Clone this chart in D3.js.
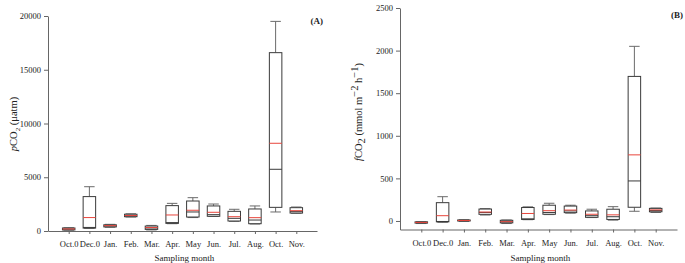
<!DOCTYPE html>
<html>
<head>
<meta charset="utf-8">
<script src="https://cdn.jsdelivr.net/npm/d3@7"></script>
<style>
  body { margin: 0; background: #fff; }
  svg { display: block; font-family: "Liberation Serif", "Times New Roman", serif; }
  .axis path, .axis line { stroke: #666; stroke-width: 1; }
  .axis text { fill: #222; font-size: 8.5px; font-family: "Liberation Serif", serif; }
  .box { fill: #fff; stroke: #3a3a3a; stroke-width: 1; }
  .whisker { stroke: #6a6a6a; stroke-width: 1; }
  .median { stroke: #3a3a3a; stroke-width: 1; }
  .mean { stroke: #e8453c; stroke-width: 1; }
  .title { fill: #222; font-size: 9px; }
  .ytitle { fill: #222; font-size: 10.5px; }
</style>
</head>
<body>
<div id="chart"></div>
<script>
var w = 685;
var h = 263;

var months = ["Oct.0", "Dec.0", "Jan.", "Feb.", "Mar.", "Apr.", "May", "Jun.", "Jul.", "Aug.", "Oct.", "Nov."];

// panel A : pCO2 (uatm)
var pco2Low    = [80,   240, 350, 1300, 100,  680, 1250, 1350,  900,  650,  1770, 1650];
var pco2Q1     = [100,  270, 380, 1330, 150,  710, 1300, 1370,  930,  680,  2200, 1670];
var pco2Median = [180,  330, 470, 1420, 280,  780, 1770, 1520, 1180, 1020,  5740, 1800];
var pco2Mean   = [190, 1250, 500, 1440, 320, 1490, 1930, 1740, 1330, 1240,  8160, 1890];
var pco2Q3     = [280, 3200, 580, 1560, 460, 2360, 2790, 2330, 1830, 2050, 16590, 2170];
var pco2High   = [300, 4120, 620, 1600, 520, 2570, 3100, 2510, 2020, 2330, 19500, 2230];
var pco2Ticks  = [0, 5000, 10000, 15000, 20000];

// panel B : fCO2 (mmol m-2 h-1)
var fco2Low    = [-30, -15, -5,  70, -30,  15,  75,  92,  40,  10,  114, 100];
var fco2Q1     = [-25, -10,  0,  78, -22,  18,  79,  98,  43,  18,  161, 108];
var fco2Median = [-18,  -6,  5, 100, -10,  25, 100, 118,  62,  50,  470, 122];
var fco2Mean   = [-17,  62,  6, 105,  -8,  88, 121, 128,  79,  72,  776, 130];
var fco2Q3     = [-10, 215, 12, 140,   8, 158, 185, 175, 118, 138, 1697, 148];
var fco2High   = [-8,  285, 15, 145,  12, 166, 208, 185, 138, 168, 2050, 152];
var fco2Ticks  = [0, 500, 1000, 1500, 2000, 2500];

function makeRows(lo, q1, med, mean, q3, hi) {
	return months.map(function(m, i) {
		return { month: m, lo: lo[i], q1: q1[i], med: med[i], mean: mean[i], q3: q3[i], hi: hi[i] };
	});
}

function drawPanel(svg, p) {
	var xScale = d3.scalePoint()
					.domain(months)
					.range([p.x0, p.x1])
					.padding(1);

	var yScale = d3.scaleLinear()
					.domain(p.domain)
					.range([p.y0, p.y1]);

	var bw = 12.5;   // box width
	var cw = 10.5;   // whisker cap width

	var g = svg.append("g");

	var boxes = g.selectAll(".bx")
				.data(p.rows)
				.enter()
				.append("g")
				.attr("class", "bx");

	//whiskers
	boxes.append("line").attr("class", "whisker")
		.attr("x1", function(d) { return xScale(d.month); })
		.attr("x2", function(d) { return xScale(d.month); })
		.attr("y1", function(d) { return yScale(d.hi); })
		.attr("y2", function(d) { return yScale(d.q3); });
	boxes.append("line").attr("class", "whisker")
		.attr("x1", function(d) { return xScale(d.month); })
		.attr("x2", function(d) { return xScale(d.month); })
		.attr("y1", function(d) { return yScale(d.q1); })
		.attr("y2", function(d) { return yScale(d.lo); });
	boxes.append("line").attr("class", "whisker")
		.attr("x1", function(d) { return xScale(d.month) - cw / 2; })
		.attr("x2", function(d) { return xScale(d.month) + cw / 2; })
		.attr("y1", function(d) { return yScale(d.hi); })
		.attr("y2", function(d) { return yScale(d.hi); });
	boxes.append("line").attr("class", "whisker")
		.attr("x1", function(d) { return xScale(d.month) - cw / 2; })
		.attr("x2", function(d) { return xScale(d.month) + cw / 2; })
		.attr("y1", function(d) { return yScale(d.lo); })
		.attr("y2", function(d) { return yScale(d.lo); });

	//box
	boxes.append("rect").attr("class", "box")
		.attr("x", function(d) { return xScale(d.month) - bw / 2; })
		.attr("width", bw)
		.attr("y", function(d) { return yScale(d.q3); })
		.attr("height", function(d) { return yScale(d.q1) - yScale(d.q3); });

	//median and mean
	boxes.append("line").attr("class", "median")
		.attr("x1", function(d) { return xScale(d.month) - bw / 2; })
		.attr("x2", function(d) { return xScale(d.month) + bw / 2; })
		.attr("y1", function(d) { return yScale(d.med); })
		.attr("y2", function(d) { return yScale(d.med); });
	boxes.append("line").attr("class", "mean")
		.attr("x1", function(d) { return xScale(d.month) - bw / 2; })
		.attr("x2", function(d) { return xScale(d.month) + bw / 2; })
		.attr("y1", function(d) { return yScale(d.mean); })
		.attr("y2", function(d) { return yScale(d.mean); });

	var xAxis = d3.axisBottom(xScale)
					.tickSize(3)
					.tickSizeOuter(0)
					.tickPadding(7);

	svg.append("g")
		.attr("class", "axis")
		.attr("transform", "translate(0, " + p.y0 + ")")
		.call(xAxis);

	var yAxis = d3.axisLeft(yScale)
					.tickValues(p.ticks)
					.tickSize(4)
					.tickSizeOuter(0)
					.tickPadding(3)
					.tickFormat(d3.format("d"));

	svg.append("g")
		.attr("class", "axis")
		.attr("transform", "translate(" + p.x0 + ", 0)")
		.call(yAxis);

	//the axis domain runs from range to range
	svg.selectAll(".axis .domain").attr("fill", "none");

	svg.append("text")
		.attr("class", "title")
		.attr("x", (p.x0 + p.x1) / 2 + 2)
		.attr("y", 260.5)
		.attr("text-anchor", "middle")
		.text("Sampling month");

	svg.append("text")
		.attr("class", "title")
		.attr("x", p.tagX)
		.attr("y", p.tagY)
		.attr("text-anchor", "end")
		.style("font-weight", "bold")
		.text(p.tag);
}

function init() {
	var svg = d3.select("#chart")
				.append("svg")
				.attr("width", w)
				.attr("height", h);

	drawPanel(svg, {
		rows: makeRows(pco2Low, pco2Q1, pco2Median, pco2Mean, pco2Q3, pco2High),
		domain: [0, 20000], ticks: pco2Ticks,
		x0: 48, x1: 317, y0: 231, y1: 16,
		tag: "(A)", tagX: 323, tagY: 24
	});

	drawPanel(svg, {
		rows: makeRows(fco2Low, fco2Q1, fco2Median, fco2Mean, fco2Q3, fco2High),
		domain: [-100, 2500], ticks: fco2Ticks,
		x0: 400, x1: 677, y0: 229.5, y1: 8,
		tag: "(B)", tagX: 683, tagY: 18
	});

	// y titles
	var ta = svg.append("text")
		.attr("class", "ytitle")
		.attr("transform", "translate(17, 124) rotate(-90)")
		.attr("text-anchor", "middle");
	ta.append("tspan").style("font-style", "italic").text("p");
	ta.append("tspan").text("CO");
	ta.append("tspan").attr("dy", 2.5).style("font-size", "7px").text("2");
	ta.append("tspan").attr("dy", -2.5).text(" (\u03bcatm)");

	var tb = svg.append("text")
		.attr("class", "ytitle")
		.attr("transform", "translate(362, 112) rotate(-90)")
		.attr("text-anchor", "middle");
	tb.append("tspan").style("font-style", "italic").text("f");
	tb.append("tspan").text("CO");
	tb.append("tspan").attr("dy", 2.5).text("2");
	tb.append("tspan").attr("dy", -2.5).text(" (mmol m");
	tb.append("tspan").attr("dy", -4).text("\u22122");
	tb.append("tspan").attr("dy", 4).text(" h");
	tb.append("tspan").attr("dy", -4).text("\u22121");
	tb.append("tspan").attr("dy", 4).text(")");
}

window.onload = init;
</script>
</body>
</html>
